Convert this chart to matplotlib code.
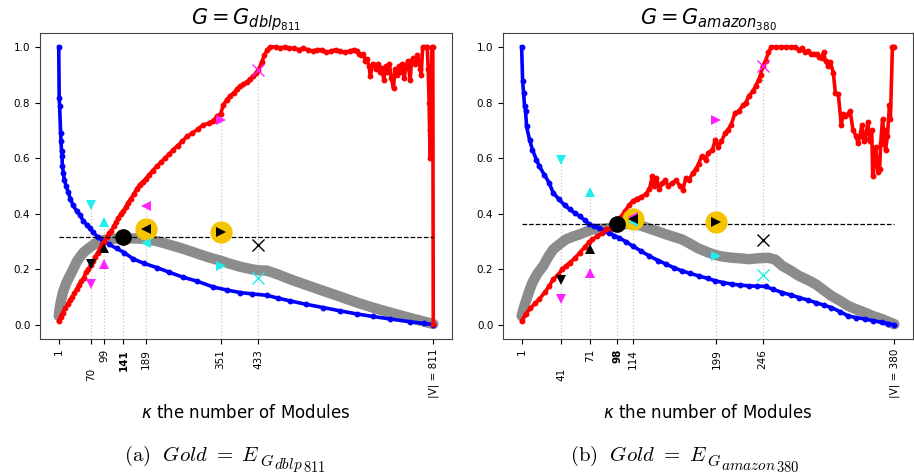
import matplotlib
matplotlib.use('Agg')
import matplotlib.pyplot as plt
from matplotlib.transforms import ScaledTranslation

# ---------------- G_dblp811 ----------------
dblp_n = 811
dblp_blue_k = [1, 2, 3, 5, 6, 7, 8, 9, 11, 13, 17, 21, 26, 32, 40, 47, 54, 62, 68, 75, 85, 97, 110, 126, 143, 162,
               185, 213, 240, 270, 300, 335, 365, 393, 420, 451, 475, 501, 535, 573, 610, 646, 680, 718, 760, 790, 811]
dblp_blue_v = [1.0, 0.816, 0.786, 0.69, 0.66, 0.625, 0.607, 0.571, 0.547, 0.523, 0.50, 0.48, 0.455, 0.43, 0.41,
               0.395, 0.375, 0.36, 0.348, 0.333, 0.318, 0.302, 0.29, 0.276, 0.26, 0.238, 0.222, 0.207, 0.19,
               0.172, 0.158, 0.137, 0.126, 0.117, 0.112, 0.107, 0.097, 0.087, 0.075, 0.063, 0.051, 0.04, 0.031,
               0.022, 0.012, 0.006, 0.002]
dblp_gray_k = [1, 3, 5, 10, 17, 25, 32, 39, 46, 54, 63, 72, 81, 90, 105, 126, 150, 176, 195, 213, 238, 263, 285,
               306, 330, 350, 372, 393, 420, 440, 451, 475, 501, 535, 573, 610, 646, 680, 718, 760, 790, 811]
dblp_gray_v = [0.033, 0.06, 0.08, 0.117, 0.15, 0.177, 0.2, 0.225, 0.243, 0.26, 0.273, 0.284, 0.294, 0.302, 0.308,
               0.311, 0.312, 0.311, 0.307, 0.302, 0.29, 0.278, 0.266, 0.254, 0.241, 0.232, 0.22, 0.21, 0.2,
               0.196, 0.196, 0.182, 0.165, 0.145, 0.123, 0.102, 0.081, 0.063, 0.045, 0.026, 0.013, 0.004]
dblp_red_k = [1, 5, 10, 15, 20, 25, 30, 35, 40, 45, 50, 55, 60, 65, 70, 75, 80, 85, 90, 95, 99, 105, 110, 115, 120,
              125, 130, 135, 141, 146, 151, 157, 163, 170, 176, 183, 189, 196, 204, 213, 222, 231, 240, 249, 258,
              268, 278, 290, 302, 314, 325, 335, 343, 351, 357, 364, 372, 380, 387, 393, 400, 408, 415, 422, 428,
              433, 440, 446, 452, 458, 470, 480, 490, 500, 510, 520, 530, 540, 550, 560, 570, 580, 590, 600, 610,
              620, 630, 640, 645, 650, 655, 660, 664, 668, 672, 675, 680, 684, 688, 692, 696, 700, 704, 708, 712,
              716, 720, 725, 728, 732, 736, 740, 744, 748, 752, 756, 761, 764, 768, 772, 776, 780, 783, 785, 788,
              795, 798, 800, 802, 803, 804, 806, 808, 810, 811]
dblp_red_v = [0.015, 0.03, 0.045, 0.06, 0.075, 0.09, 0.1, 0.115, 0.13, 0.145, 0.16, 0.17, 0.19, 0.2, 0.215, 0.23,
              0.245, 0.26, 0.275, 0.29, 0.30, 0.315, 0.33, 0.34, 0.355, 0.37, 0.385, 0.4, 0.41, 0.425, 0.44, 0.455,
              0.47, 0.49, 0.505, 0.515, 0.525, 0.54, 0.555, 0.571, 0.585, 0.6, 0.615, 0.631, 0.645, 0.66, 0.678,
              0.69, 0.705, 0.72, 0.725, 0.735, 0.75, 0.76, 0.79, 0.81, 0.825, 0.835, 0.85, 0.858, 0.865, 0.875,
              0.885, 0.894, 0.905, 0.918, 0.945, 0.97, 0.99, 1.0, 1.0, 0.995, 1.0, 0.995, 0.995, 0.99, 0.995,
              0.99, 0.985, 0.99, 0.99, 0.98, 0.985, 0.99, 0.985, 0.98, 0.985, 0.99, 0.985, 0.975, 0.97, 0.975,
              0.95, 0.955, 0.93, 0.894, 0.94, 0.935, 0.92, 0.94, 0.91, 0.925, 0.88, 0.93, 0.91, 0.94, 0.89, 0.852,
              0.92, 0.9, 0.93, 0.91, 0.94, 0.89, 0.93, 0.95, 0.88, 0.95, 0.96, 0.94, 0.97, 0.95, 0.92, 0.90, 1.0,
              1.0, 1.0, 0.92, 0.8, 0.7, 0.6, 0.65, 1.0, 1.0, 0.005]
dblp_ticks = [1, 70, 99, 141, 189, 351, 433, 811]
dblp_tick_labels = ['1', '70', '99', '141', '189', '351', '433', '|V| = 811']
dblp_mk_k = [70, 99, 189, 351, 433]
dblp_black_v = [0.219, 0.276, 0.347, 0.335, 0.288]
dblp_cyan_v = [0.43, 0.37, 0.294, 0.213, 0.171]
dblp_magenta_v = [0.147, 0.219, 0.428, 0.738, 0.918]
dblp_best_k = 141
dblp_best_v = 0.318
dblp_gold_k = [189, 351]
dblp_gold_v = [0.347, 0.335]

# ---------------- G_amazon380 ----------------
amz_n = 380
amz_blue_k = [1, 2, 3, 4, 5, 6, 9, 12, 16, 19, 24, 29, 33, 39, 45, 50, 55, 60, 65, 70, 75, 80, 85, 90, 95, 100, 107,
              114, 122, 131, 140, 148, 156, 164, 172, 181, 190, 198, 206, 215, 223, 232, 240, 249, 257, 266, 275,
              283, 292, 300, 308, 316, 325, 333, 341, 350, 358, 367, 374, 380]
amz_blue_v = [1.0, 0.876, 0.834, 0.786, 0.77, 0.714, 0.667, 0.63, 0.595, 0.571, 0.541, 0.511, 0.476, 0.452, 0.43,
              0.416, 0.403, 0.392, 0.377, 0.362, 0.355, 0.35, 0.34, 0.332, 0.322, 0.314, 0.3, 0.284, 0.267, 0.248,
              0.232, 0.219, 0.206, 0.195, 0.186, 0.177, 0.168, 0.159, 0.153, 0.147, 0.144, 0.141, 0.14, 0.139,
              0.128, 0.117, 0.108, 0.099, 0.09, 0.081, 0.072, 0.063, 0.048, 0.033, 0.027, 0.022, 0.016, 0.01,
              0.005, 0.001]
amz_gray_k = [1, 3, 6, 9, 12, 17, 23, 28, 33, 40, 46, 53, 60, 66, 73, 80, 87, 94, 100, 107, 114, 122, 131, 140, 148,
              156, 164, 172, 181, 190, 198, 206, 215, 223, 232, 241, 252, 259, 266, 275, 283, 292, 300, 308, 316,
              325, 333, 341, 350, 358, 367, 374, 380]
amz_gray_v = [0.033, 0.06, 0.093, 0.125, 0.153, 0.185, 0.213, 0.245, 0.272, 0.292, 0.308, 0.318, 0.326, 0.335,
              0.344, 0.346, 0.347, 0.352, 0.358, 0.363, 0.368, 0.358, 0.347, 0.336, 0.326, 0.317, 0.308, 0.293,
              0.275, 0.262, 0.252, 0.246, 0.242, 0.24, 0.237, 0.24, 0.242, 0.235, 0.213, 0.195, 0.177, 0.162,
              0.147, 0.126, 0.105, 0.087, 0.069, 0.057, 0.045, 0.033, 0.022, 0.012, 0.003]
amz_red_k = [1, 5, 10, 15, 19, 25, 29, 33, 38, 42, 46, 50, 55, 60, 65, 70, 73, 78, 83, 87, 92, 96, 99, 102, 106, 110,
             114, 118, 122, 127, 131, 134, 136, 138, 141, 144, 147, 150, 154, 158, 162, 165, 168, 171, 175, 178,
             181, 184, 188, 191, 195, 198, 201, 204, 208, 211, 214, 218, 222, 226, 229, 232, 236, 239, 242, 244,
             246, 249, 252, 255, 260, 265, 270, 275, 279, 283, 286, 289, 292, 295, 298, 301, 303, 306, 308, 310,
             313, 315, 318, 320, 323, 326, 328, 330, 333, 335, 338, 341, 343, 345, 347, 349, 350, 352, 353, 355,
             357, 358, 360, 361, 363, 365, 366, 368, 369, 371, 373, 375, 376, 378, 379, 380]
amz_red_v = [0.015, 0.04, 0.06, 0.08, 0.093, 0.12, 0.14, 0.165, 0.18, 0.2, 0.213, 0.225, 0.24, 0.26, 0.28, 0.3,
             0.308, 0.32, 0.33, 0.344, 0.35, 0.36, 0.38, 0.39, 0.41, 0.43, 0.446, 0.455, 0.46, 0.47, 0.49, 0.535,
             0.5, 0.53, 0.49, 0.51, 0.52, 0.5, 0.511, 0.52, 0.5, 0.487, 0.53, 0.52, 0.547, 0.56, 0.58, 0.607,
             0.595, 0.62, 0.63, 0.667, 0.64, 0.66, 0.69, 0.703, 0.72, 0.763, 0.77, 0.79, 0.8, 0.823, 0.84, 0.86,
             0.882, 0.9, 0.93, 0.95, 0.98, 1.0, 1.0, 1.0, 1.0, 1.0, 1.0, 0.99, 0.995, 0.98, 0.985, 0.975, 0.975,
             0.975, 0.965, 0.96, 0.98, 0.95, 0.93, 0.945, 0.905, 0.834, 0.83, 0.72, 0.76, 0.75, 0.76, 0.77, 0.7,
             0.68, 0.654, 0.68, 0.72, 0.66, 0.67, 0.7, 0.73, 0.66, 0.7, 0.535, 0.6, 0.64, 0.55, 0.56, 0.65, 0.74,
             0.7, 0.63, 0.68, 0.79, 0.74, 1.0, 1.0, 1.0]
amz_ticks = [1, 41, 71, 98, 114, 199, 246, 380]
amz_tick_labels = ['1', '41', '71', '98', '114', '199', '246', '|V| = 380']
amz_mk_k = [41, 71, 114, 199, 246]
amz_black_v = [0.162, 0.272, 0.38, 0.37, 0.305]
amz_cyan_v = [0.595, 0.48, 0.372, 0.248, 0.179]
amz_magenta_v = [0.093, 0.189, 0.39, 0.738, 0.93]
amz_best_k = 98
amz_best_v = 0.362
amz_gold_k = [114, 199]
amz_gold_v = [0.38, 0.37]

marker_shapes = ['v', '^', '<', '>', 'x']

W, H = 914, 476
fig = plt.figure(figsize=(W / 100, H / 100), dpi=100)
ax1 = fig.add_axes([40 / W, 1 - 339 / H, 412 / W, 306 / H])
ax2 = fig.add_axes([503 / W, 1 - 339 / H, 410 / W, 306 / H])


def draw(ax, n, bk, bv, gk, gv, rk, rv, ticks, labels, bold_tick, low_tick, mk, blk, cy, mg,
         best_k, best_v, gold_k, gold_v, title):
    ax.set_ylim(-0.05, 1.05)
    ax.plot(gk, gv, color='#8c8c8c', lw=7.5, solid_capstyle='round', solid_joinstyle='round', zorder=2)
    ax.plot(bk, bv, color='blue', lw=2.6, marker='o', ms=3.2, zorder=3)
    ax.plot(rk, rv, color='red', lw=2.6, marker='o', ms=3.2, zorder=4)
    ax.hlines(best_v, 1, n, colors='black', linestyles='--', lw=0.9, zorder=5)
    # vertical guide lines up to the highest marker
    for i, k in enumerate(mk):
        top = max(blk[i], cy[i], mg[i])
        ax.vlines(k, -0.05, top, colors='#c8c8c8', linestyles=':', lw=0.9, zorder=1)
    ax.vlines(best_k, -0.05, best_v, colors='#c8c8c8', linestyles=':', lw=0.9, zorder=1)
    ax.plot(gold_k, gold_v, 'o', color='#f5c400', ms=15, zorder=6)
    for i, k in enumerate(mk):
        m = marker_shapes[i]
        kw = dict(ms=8.5, mew=1.0) if m == 'x' else dict(ms=7.5, mew=0)
        ax.plot([k], [blk[i]], m, color='black', zorder=8, **kw)
        ax.plot([k], [cy[i]], m, color='#22eeee', zorder=7, **kw)
        ax.plot([k], [mg[i]], m, color='#ff22ff', zorder=7, **kw)
    ax.plot([best_k], [best_v], 'o', color='black', ms=11, zorder=8)
    ax.set_xticks(ticks)
    ax.set_xticklabels(labels, rotation=90, fontsize=7.5)
    ax.set_yticks([0.0, 0.2, 0.4, 0.6, 0.8, 1.0])
    ax.tick_params(axis='y', labelsize=7.5)
    ax.set_title(title, fontsize=15, pad=5)
    ax.set_xlabel(r'$\kappa$ the number of Modules', fontsize=12, labelpad=4)
    for lab in ax.get_xticklabels():
        if lab.get_text() == bold_tick:
            lab.set_fontweight('bold')
        if lab.get_text() == low_tick:
            lab.set_transform(lab.get_transform() + ScaledTranslation(0, -0.19, fig.dpi_scale_trans))
    for sp in ax.spines.values():
        sp.set_color('#444444')


draw(ax1, dblp_n, dblp_blue_k, dblp_blue_v, dblp_gray_k, dblp_gray_v, dblp_red_k, dblp_red_v,
     dblp_ticks, dblp_tick_labels, '141', '70', dblp_mk_k, dblp_black_v, dblp_cyan_v, dblp_magenta_v,
     dblp_best_k, dblp_best_v, dblp_gold_k, dblp_gold_v, r'$G = G_{dblp_{811}}$')
draw(ax2, amz_n, amz_blue_k, amz_blue_v, amz_gray_k, amz_gray_v, amz_red_k, amz_red_v,
     amz_ticks, amz_tick_labels, '98', '41', amz_mk_k, amz_black_v, amz_cyan_v, amz_magenta_v,
     amz_best_k, amz_best_v, amz_gold_k, amz_gold_v, r'$G = G_{amazon_{380}}$')

# captions built piece by piece (LaTeX-like, larger sub-script sizes)
fig.canvas.draw()
renderer = fig.canvas.get_renderer()


def caption(x_px, base_px, parts):
    x = x_px
    for txt, fs, dy in parts:
        t = fig.text(x / W, 1 - (base_px + dy) / H, txt, math_fontfamily='cm', fontsize=fs,
                     ha='left', va='baseline')
        bb = t.get_window_extent(renderer)
        x = bb.x1


caption(124, 461, [(r'$\mathrm{(a)}\ \ Gold\ = \ E$', 15, 0), (r'$G$', 11.5, 5),
                   (r'$dblp$', 11, 8.5), (r'$811$', 10.5, 11)])
caption(570, 461, [(r'$\mathrm{(b)}\ \ Gold\ = \ E$', 15, 0), (r'$G$', 11.5, 5),
                   (r'$amazon$', 11, 8.5), (r'$380$', 10.5, 11)])

fig.savefig('out.png', dpi=100)
